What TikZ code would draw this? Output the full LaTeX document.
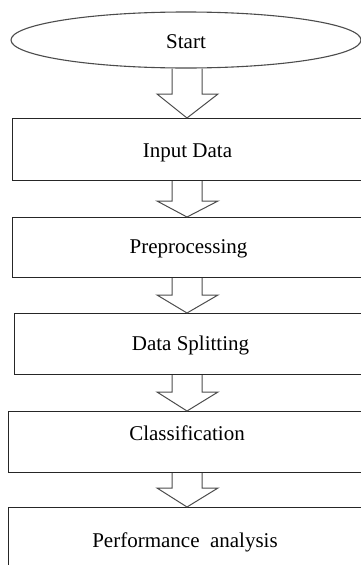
\documentclass[tikz,border=0pt]{standalone}
\usepackage{fontspec}
\setmainfont{Liberation Serif}
\usetikzlibrary{shapes.geometric,calc}
\begin{document}
\begin{tikzpicture}[x=1pt,y=-1pt,
  every node/.style={font=\fontsize{21}{25}\selectfont},
  box/.style={draw=black!85, line width=1.2pt, rectangle, inner sep=0pt, anchor=north west, minimum width=360, minimum height=62},
  lbl/.style={anchor=base, inner sep=0pt},
  arr/.style={draw=black!70, line width=1pt, line join=miter}]
\useasboundingbox (0,0) rectangle (361,565);
\clip (0,0) rectangle (361,565);
\newcommand\blockarr[3]{%
  \draw[arr] let \p1=(#1.south), \p2=(#2.north) in
    (172pt,\y1) -- (172pt,\y2+#3pt) -- (157pt,\y2+#3pt) -- (187pt,\y2)
    -- (218pt,\y2+#3pt) -- (202pt,\y2+#3pt) -- (202pt,\y1);}
% start
\node[ellipse, draw=black!70, line width=1.1pt, minimum width=350, minimum height=56, inner sep=0pt] (s) at (186,40) {};
\node[lbl] (ts) at (186,48) {Start};
% boxes
\node[box, minimum height=62] (b1) at (12,118) {};
\node[box, minimum height=60] (b2) at (12,217) {};
\node[box, minimum height=61] (b3) at (14,313) {};
\node[box, minimum height=61] (b4) at (8,411) {};
\node[box, minimum height=90] (b5) at (8,507) {};
% labels
\node[lbl] (t1) at (187.5,157) {Input Data};
\node[lbl] (t2) at (188.5,253) {Preprocessing};
\node[lbl] (t3) at (190.5,350) {Data Splitting};
\node[lbl] (t4) at (187,440) {Classification};
\node[lbl] (t5) at (185,547) {Performance\ \ analysis};
% arrows
\blockarr{s}{b1}{24}
\blockarr{b1}{b2}{16}
\blockarr{b2}{b3}{18}
\blockarr{b3}{b4}{19}
\blockarr{b4}{b5}{19}
\end{tikzpicture}
\end{document}
